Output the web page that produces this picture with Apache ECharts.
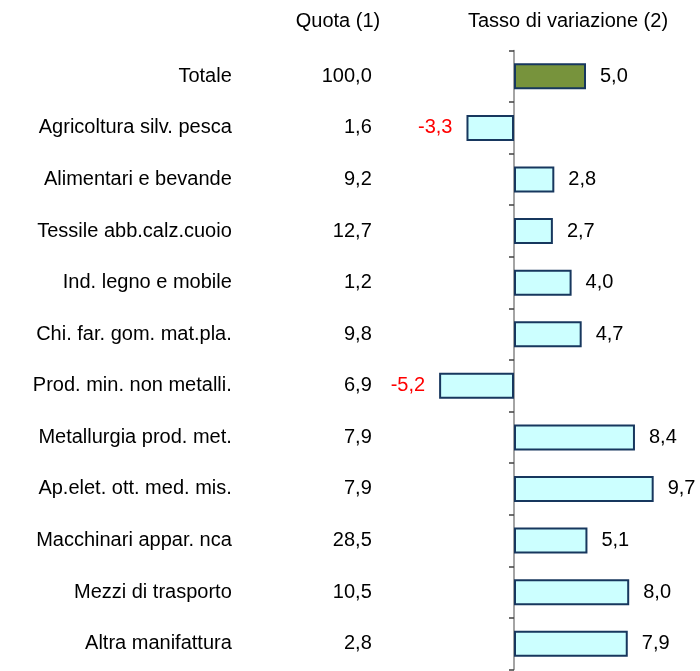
<!DOCTYPE html>
<html>
<head>
<meta charset="utf-8">
<script src="https://cdn.jsdelivr.net/npm/echarts@6/dist/echarts.min.js"></script>
<style>
html,body{margin:0;padding:0;background:#fff;}
#chart{width:700px;height:671px;}
</style>
</head>
<body>
<div id="chart"></div>
<script>
const categories = ['Totale','Agricoltura silv. pesca','Alimentari e bevande','Tessile abb.calz.cuoio','Ind. legno e mobile','Chi. far. gom. mat.pla.','Prod. min. non metalli.','Metallurgia prod. met.','Ap.elet. ott. med. mis.','Macchinari appar. nca','Mezzi di trasporto','Altra manifattura'];
const quota = ['100,0','1,6','9,2','12,7','1,2','9,8','6,9','7,9','7,9','28,5','10,5','2,8'];
const tasso = [5.0,-3.3,2.8,2.7,4.0,4.7,-5.2,8.4,9.7,5.1,8.0,7.9];
const headerQuota = 'Quota (1)';
const headerTasso = 'Tasso di variazione (2)';

const FONT = 'Liberation Sans, Arial, sans-serif';
const FS = 20;
const fmt = v => v.toFixed(1).replace('.', ',');

const seriesData = tasso.map((v, i) => ({
  value: v,
  itemStyle: { color: i === 0 ? '#77933C' : '#CCFFFF' },
  label: { position: v < 0 ? 'left' : 'right', color: v < 0 ? '#FF0000' : '#000' }
}));

const chart = echarts.init(document.getElementById('chart'), null, {renderer: 'canvas'});
chart.setOption({
  animation: false,
  backgroundColor: '#fff',
  graphic: [
    {type:'text', x:338, y:21, style:{text:headerQuota, font:`${FS}px ${FONT}`, fill:'#000', textAlign:'center', textVerticalAlign:'middle'}},
    {type:'text', x:568, y:21, style:{text:headerTasso, font:`${FS}px ${FONT}`, fill:'#000', textAlign:'center', textVerticalAlign:'middle'}}
  ],
  grid: { left: 398.8, width: 288, top: 50.5, height: 619, containLabel: false },
  xAxis: { type: 'value', min: -8, max: 12, show: false },
  yAxis: [
    {
      type: 'category', data: categories, inverse: true, position: 'left',
      axisLine: { onZero: true, lineStyle: { color: '#868686', width: 1.5 } },
      axisTick: { show: true, length: 5, lineStyle: { color: '#404040', width: 1.5 } },
      axisLabel: { show: false }
    },
    {
      type: 'category', data: categories, inverse: true, position: 'left',
      axisLine: { show: false, onZero: false }, axisTick: { show: false },
      axisLabel: { margin: 167, fontSize: FS, fontFamily: FONT, color: '#000' }
    },
    {
      type: 'category', data: quota, inverse: true, position: 'left',
      axisLine: { show: false, onZero: false }, axisTick: { show: false },
      axisLabel: { margin: 27, fontSize: FS, fontFamily: FONT, color: '#000' }
    }
  ],
  series: [{
    type: 'bar', yAxisIndex: 0, data: seriesData, barWidth: 26,
    itemStyle: { borderColor: '#17375E', borderWidth: 2 },
    label: { show: true, distance: 14, fontSize: FS, fontFamily: FONT, formatter: p => fmt(p.value) }
  }]
});
</script>
</body>
</html>
